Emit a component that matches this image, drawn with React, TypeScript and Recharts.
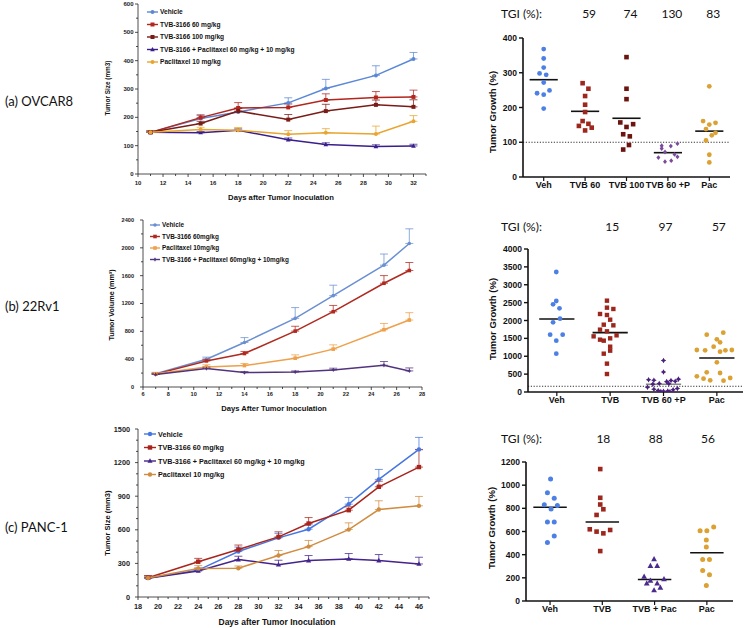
import React from 'react';
import { LineChart, Line, XAxis, YAxis, ErrorBar, ScatterChart, Scatter, ReferenceLine } from 'recharts';

const SANS = '"Liberation Sans", Arial, sans-serif';
const HUM = 'Lato, "Open Sans", sans-serif';

// ---- (a) OVCAR8 growth curves ----
const aDays = [11, 15, 18, 22, 25, 29, 32];
const aVehicle = [147, 196, 219, 251, 302, 348, 406];
const aVehicleErr = [5, 10, 12, 18, 32, 34, 23];
const aTvb60 = [147, 199, 233, 235, 261, 270, 272];
const aTvb60Err = [5, 10, 19, 12, 22, 21, 24];
const aTvb100 = [147, 178, 222, 192, 222, 244, 237];
const aTvb100Err = [5, 8, 10, 18, 24, 17, 25];
const aTvbPac = [147, 146, 154, 121, 104, 97, 99];
const aTvbPacErr = [4, 4, 5, 6, 6, 6, 6];
const aPac = [147, 157, 154, 140, 146, 141, 186];
const aPacErr = [5, 8, 10, 13, 14, 28, 20];
const aXTicks = [10, 11, 12, 13, 14, 15, 16, 17, 18, 19, 20, 21, 22, 23, 24, 25, 26, 27, 28, 29, 30, 31, 32, 33];
const aXMajor = [10, 12, 14, 16, 18, 20, 22, 24, 26, 28, 30, 32];
const aYTicks = [0, 50, 100, 150, 200, 250, 300, 350, 400, 450, 500, 550, 600];
const aYMajor = [0, 100, 200, 300, 400, 500, 600];

// ---- (b) 22Rv1 growth curves ----
const bDays = [7, 11, 14, 18, 21, 25, 27];
const bVehicle = [190, 399, 640, 986, 1313, 1751, 2063];
const bVehicleErr = [20, 30, 70, 155, 150, 160, 210];
const bTvb60 = [185, 375, 481, 803, 1082, 1491, 1674];
const bTvb60Err = [15, 25, 30, 70, 90, 110, 115];
const bPac = [190, 289, 308, 414, 544, 823, 962];
const bPacErr = [15, 30, 30, 48, 62, 90, 106];
const bTvbPac = [180, 265, 207, 216, 245, 313, 231];
const bTvbPacErr = [10, 20, 15, 15, 25, 53, 43];
const bXTicks = [6, 7, 8, 9, 10, 11, 12, 13, 14, 15, 16, 17, 18, 19, 20, 21, 22, 23, 24, 25, 26, 27, 28];
const bXMajor = [6, 8, 10, 12, 14, 16, 18, 20, 22, 24, 26, 28];
const bYTicks = [0, 200, 400, 600, 800, 1000, 1200, 1400, 1600, 1800, 2000, 2200, 2400];
const bYMajor = [0, 400, 800, 1200, 1600, 2000, 2400];

// ---- (c) PANC-1 growth curves ----
const cDays = [19, 24, 28, 32, 35, 39, 42, 46];
const cVehicle = [170, 240, 406, 528, 605, 829, 1050, 1318];
const cVehicleErr = [20, 20, 40, 40, 40, 60, 89, 107];
const cTvb60 = [172, 315, 424, 537, 656, 775, 984, 1160];
const cTvb60Err = [20, 30, 40, 45, 53, 30, 50, 155];
const cTvbPac = [168, 232, 334, 289, 325, 340, 325, 295];
const cTvbPacErr = [10, 15, 30, 39, 45, 48, 54, 60];
const cPac = [170, 255, 257, 370, 450, 602, 781, 814];
const cPacErr = [15, 25, 20, 45, 55, 60, 78, 84];
const cXTicks = [18, 19, 20, 21, 22, 23, 24, 25, 26, 27, 28, 29, 30, 31, 32, 33, 34, 35, 36, 37, 38, 39, 40, 41, 42, 43, 44, 45, 46, 47];
const cXMajor = [18, 20, 22, 24, 26, 28, 30, 32, 34, 36, 38, 40, 42, 44, 46];
const cYTicks = [0, 100, 200, 300, 400, 500, 600, 700, 800, 900, 1000, 1100, 1200, 1300, 1400, 1500];
const cYMajor = [0, 300, 600, 900, 1200, 1500];

// ---- dot plots: tumor growth (%) per animal, with jitter in category units ----
const aCats = ['Veh', 'TVB 60', 'TVB 100', 'TVB 60 +P', 'Pac'];
const aTgi = ['', '59', '74', '130', '83'];
const aVehDots = [368, 341, 315, 298, 294, 272, 249, 241, 237, 197];
const aVehJit = [0, 0, 0, -0.1, 0.06, 0, 0.14, -0.16, 0, 0];
const aTvb60Dots = [270, 254, 233, 208, 187, 161, 153, 147, 142, 134];
const aTvb60Jit = [-0.06, 0.08, 0, 0, 0, -0.06, 0.08, -0.15, 0.16, 0];
const aTvb100Dots = [345, 254, 224, 157, 144, 152, 123, 117, 92, 79];
const aTvb100Jit = [0, 0, 0, -0.15, 0, 0.16, -0.08, 0.08, 0.06, -0.08];
const aTvbPDots = [90, 89, 96, 82, 72, 65, 56, 58, 44, 47];
const aTvbPJit = [-0.15, 0.07, 0.23, -0.15, -0.07, 0.16, -0.23, 0.23, -0.07, 0.08];
const aPacDots = [261, 161, 151, 156, 138, 127, 120, 105, 64, 42];
const aPacJit = [0, -0.15, 0, 0.15, -0.08, 0.15, 0.06, -0.08, 0, 0];
const aMeans = [280, 189, 169, 70, 132];
const aBaseline = 100;

const bCats = ['Veh', 'TVB', 'TVB 60 +P', 'Pac'];
const bTgi = ['', '15', '97', '57'];
const bVehDots = [3357, 2545, 2452, 2340, 2051, 1949, 1604, 1604, 1436, 1072];
const bVehJit = [-0.01, -0.01, -0.07, 0.05, 0.06, -0.07, -0.125, 0.11, -0.01, -0.01];
const bTvbDots = [2555, 2359, 2322, 2182, 2154, 2023, 1883, 1865, 1744, 1697, 1557, 1585, 1464, 1436, 1501, 1268, 1156, 1072, 793, 503];
const bTvbJit = [-0.06, -0.06, 0.06, -0.19, -0.06, 0, -0.12, 0.06, -0.19, -0.06, -0.31, 0.12, -0.19, -0.12, 0, 0, 0, -0.12, -0.06, -0.06];
const bTvbPDots = [880, 560, 360, 340, 330, 320, 300, 290, 240, 230, 220, 130, 100, 80, 60, 40, 30, 20, 15, 10];
const bTvbPJit = [0, 0, 0.28, -0.28, -0.18, 0.14, 0.22, 0.06, -0.08, 0.1, -0.2, -0.3, 0.26, -0.18, 0.18, -0.1, 0.08, 0, -0.05, 0.12];
const bPacDots = [1604, 1660, 1473, 1389, 1175, 1165, 1268, 1128, 1165, 1175, 830, 550, 531, 438, 373, 326, 317, 392];
const bPacJit = [-0.19, 0.12, 0, 0.06, -0.375, -0.22, -0.06, 0.06, 0.16, 0.28, 0, -0.19, 0.06, -0.375, -0.25, -0.125, 0.125, 0.25];
const bMeans = [2042, 1660, 215, 951];
const bBaseline = 160;

const cCats = ['Veh', 'TVB', 'TVB + Pac', 'Pac'];
const cTgi = ['', '18', '88', '56'];
const cVehDots = [1053, 934, 888, 830, 824, 795, 682, 682, 561, 506];
const cVehJit = [0.01, -0.05, 0.08, -0.11, 0.14, 0.02, -0.05, 0.08, 0.08, -0.05];
const cTvbDots = [1139, 891, 833, 792, 743, 619, 599, 584, 613, 431];
const cTvbJit = [-0.04, -0.04, -0.04, 0.02, -0.11, -0.24, -0.11, 0.02, 0.15, -0.04];
const cTvbPDots = [361, 304, 304, 211, 176, 153, 188, 153, 116, 93];
const cTvbPJit = [-0.01, -0.08, 0.05, -0.2, -0.08, 0.05, 0.18, -0.15, 0.11, -0.01];
const cPacDots = [607, 607, 639, 526, 466, 359, 359, 263, 226, 133];
const cPacJit = [-0.13, 0, 0.13, -0.01, -0.01, -0.08, 0.05, -0.08, 0.05, -0.01];
const cMeans = [810, 682, 185, 416];

type Series = { name: string; color: string; mark: string; values: number[]; errs: number[] };

const aSeries: Series[] = [
  { name: 'Vehicle', color: '#5a88d6', mark: 'circle', values: aVehicle, errs: aVehicleErr },
  { name: 'TVB-3166 60 mg/kg', color: '#b3261e', mark: 'square', values: aTvb60, errs: aTvb60Err },
  { name: 'TVB-3166 100 mg/kg', color: '#7a1c16', mark: 'square', values: aTvb100, errs: aTvb100Err },
  { name: 'TVB-3166 + Paclitaxel 60 mg/kg + 10 mg/kg', color: '#3a1f8c', mark: 'triangle', values: aTvbPac, errs: aTvbPacErr },
  { name: 'Paclitaxel 10 mg/kg', color: '#e8a530', mark: 'circle', values: aPac, errs: aPacErr },
];
const bSeries: Series[] = [
  { name: 'Vehicle', color: '#6a8fd2', mark: 'circle', values: bVehicle, errs: bVehicleErr },
  { name: 'TVB-3166 60mg/kg', color: '#b02a20', mark: 'square', values: bTvb60, errs: bTvb60Err },
  { name: 'Paclitaxel 10mg/kg', color: '#eea04a', mark: 'square', values: bPac, errs: bPacErr },
  { name: 'TVB-3166 + Paclitaxel 60mg/kg + 10mg/kg', color: '#52337e', mark: 'plus', values: bTvbPac, errs: bTvbPacErr },
];
const cSeries: Series[] = [
  { name: 'Vehicle', color: '#4676e0', mark: 'circle', values: cVehicle, errs: cVehicleErr },
  { name: 'TVB-3166 60 mg/kg', color: '#a8241c', mark: 'square', values: cTvb60, errs: cTvb60Err },
  { name: 'TVB-3166 + Paclitaxel 60 mg/kg + 10 mg/kg', color: '#44248c', mark: 'triangle', values: cTvbPac, errs: cTvbPacErr },
  { name: 'Paclitaxel 10 mg/kg', color: '#d08c40', mark: 'circle', values: cPac, errs: cPacErr },
];

const rows = (days: number[], s: Series) => days.map((d, i) => ({ day: d, v: s.values[i], e: [0, s.errs[i]] }));
const pts = (cat: number, vals: number[], jit: number[]) => vals.map((v, i) => ({ x: cat + jit[i], y: v }));

function Mark({ kind, x, y, s, color }: any) {
  if (kind === 'square') return <rect x={x - s / 2} y={y - s / 2} width={s} height={s} fill={color} />;
  if (kind === 'triangle')
    return <polygon points={`${x},${y - s * 0.62} ${x + s * 0.58},${y + s * 0.42} ${x - s * 0.58},${y + s * 0.42}`} fill={color} />;
  if (kind === 'diamond')
    return <polygon points={`${x},${y - s * 0.6} ${x + s * 0.5},${y} ${x},${y + s * 0.6} ${x - s * 0.5},${y}`} fill={color} />;
  if (kind === 'plus')
    return (
      <polygon
        points={`${x},${y - s * 0.6} ${x + s * 0.22},${y - s * 0.22} ${x + s * 0.6},${y} ${x + s * 0.22},${y + s * 0.22} ${x},${y + s * 0.6} ${x - s * 0.22},${y + s * 0.22} ${x - s * 0.6},${y} ${x - s * 0.22},${y - s * 0.22}`}
        fill={color}
      />
    );
  return <circle cx={x} cy={y} r={s / 2} fill={color} />;
}

const dotFn = (kind: string, color: string, s: number) => (p: any) => (
  <g key={`d-${p.index}`}>{p.cx != null && p.cy != null ? <Mark kind={kind} x={p.cx} y={p.cy} s={s} color={color} /> : null}</g>
);

const yTick = (majors: number[], fs: number, gap: number) => (p: any) => {
  const v = p.payload.value;
  const major = majors.includes(v);
  return (
    <g key={`y-${v}`}>
      <line x1={p.x} x2={p.x - (major ? 3 : 2)} y1={p.y} y2={p.y} stroke="#222" strokeWidth={0.8} />
      {major && (
        <text x={p.x - gap} y={p.y} dy="0.35em" textAnchor="end" fontSize={fs} fontWeight={700} fontFamily={SANS} fill="#222">
          {v}
        </text>
      )}
    </g>
  );
};

const xTick = (majors: number[], fs: number, gap: number) => (p: any) => {
  const v = p.payload.value;
  const major = majors.includes(v);
  return (
    <g key={`x-${v}`}>
      <line x1={p.x} x2={p.x} y1={p.y} y2={p.y + (major ? 3 : 2)} stroke="#222" strokeWidth={0.8} />
      {major && (
        <text x={p.x} y={p.y + gap} dy="0.35em" textAnchor="middle" fontSize={fs} fontWeight={700} fontFamily={SANS} fill="#222">
          {v}
        </text>
      )}
    </g>
  );
};

function Txt({ x, y, size, bold, family = SANS, rotate, left, children }: any) {
  return (
    <div
      style={{
        position: 'absolute',
        left: x,
        top: y,
        transform: `translate(${left ? '0' : '-50%'}, -50%)${rotate ? ' rotate(-90deg)' : ''}`,
        fontSize: size,
        fontWeight: bold ? 700 : 400,
        fontFamily: family,
        whiteSpace: 'nowrap',
        lineHeight: 1,
        color: '#111',
      }}
    >
      {children}
    </div>
  );
}

function LegendBox({ series, x0, x1, tx, ys, fs, ms }: any) {
  return (
    <svg style={{ position: 'absolute', left: 0, top: 0 }} width={440} height={628}>
      {series.map((s: Series, i: number) => (
        <g key={s.name}>
          <line x1={x0} x2={x1} y1={ys[i]} y2={ys[i]} stroke={s.color} strokeWidth={1.4} />
          <Mark kind={s.mark} x={(x0 + x1) / 2} y={ys[i]} s={ms} color={s.color} />
          <text x={tx} y={ys[i]} dy="0.35em" fontSize={fs} fontWeight={700} fontFamily={SANS} fill="#111">
            {s.name}
          </text>
        </g>
      ))}
    </svg>
  );
}

function GrowthChart({ left, top, width, height, margin, days, series, xDomain, xTicks, xMajor, yDomain, yTicks, yMajor, fs, ygap, xgap, ms }: any) {
  return (
    <div style={{ position: 'absolute', left, top }}>
      <LineChart width={width} height={height} margin={margin}>
        <XAxis
          dataKey="day"
          type="number"
          domain={xDomain}
          ticks={xTicks}
          interval={0}
          tickSize={0}
          tickMargin={0}
          tickLine={false}
          tick={xTick(xMajor, fs, xgap)}
          axisLine={{ stroke: '#222', strokeWidth: 0.8 }}
          height={20}
          allowDataOverflow
        />
        <YAxis
          type="number"
          domain={yDomain}
          ticks={yTicks}
          interval={0}
          tickSize={0}
          tickMargin={0}
          tickLine={false}
          tick={yTick(yMajor, fs, ygap)}
          axisLine={{ stroke: '#222', strokeWidth: 0.8 }}
          width={40}
          allowDataOverflow
        />
        {series.map((s: Series) => (
          <Line
            key={s.name}
            data={rows(days, s)}
            dataKey="v"
            type="linear"
            stroke={s.color}
            strokeWidth={1.5}
            dot={dotFn(s.mark, s.color, ms)}
            activeDot={false}
            isAnimationActive={false}
          >
            <ErrorBar dataKey="e" width={4} stroke={s.color} strokeOpacity={0.75} strokeWidth={1} />
          </Line>
        ))}
      </LineChart>
    </div>
  );
}

const circleShape = (color: string, r: number) => (p: any) => <circle cx={p.cx} cy={p.cy} r={r} fill={color} />;
const markShape = (kind: string, color: string, s: number) => (p: any) => <Mark kind={kind} x={p.cx} y={p.cy} s={s} color={color} />;

function DotChart({ left, top, height, margin, xDomain, cats, yDomain, yTicks, groups, means, meanColors, half, baseline }: any) {
  return (
    <div style={{ position: 'absolute', left, top }}>
      <ScatterChart width={305} height={height} margin={margin}>
        <XAxis
          dataKey="x"
          type="number"
          domain={xDomain}
          ticks={cats.map((_: string, i: number) => i + 1)}
          tickFormatter={(v: number) => cats[v - 1]}
          interval={0}
          tickSize={4}
          tickMargin={1}
          axisLine={{ stroke: '#111', strokeWidth: 1.6 }}
          tickLine={{ stroke: '#111', strokeWidth: 1.2 }}
          tick={{ fontSize: 9, fontWeight: 700, fill: '#111', fontFamily: SANS }}
          height={20}
          allowDataOverflow
        />
        <YAxis
          dataKey="y"
          type="number"
          domain={yDomain}
          ticks={yTicks}
          interval={0}
          tickSize={4}
          tickMargin={2}
          axisLine={{ stroke: '#111', strokeWidth: 1.6 }}
          tickLine={{ stroke: '#111', strokeWidth: 1.4 }}
          tick={{ fontSize: 8.5, fontWeight: 700, fill: '#111', fontFamily: SANS }}
          width={40}
          allowDataOverflow
        />
        {baseline != null && <ReferenceLine y={baseline} stroke="#333" strokeWidth={1} strokeDasharray="1.2 1.6" />}
        {groups.map((g: any, i: number) => (
          <Scatter key={i} data={g.data} shape={g.shape} isAnimationActive={false} />
        ))}
        {means.map((m: number, i: number) => (
          <ReferenceLine
            key={`m-${i}`}
            segment={[
              { x: i + 1 - half, y: m },
              { x: i + 1 + half, y: m },
            ]}
            stroke={meanColors[i]}
            strokeWidth={1.6}
            ifOverflow="visible"
          />
        ))}
      </ScatterChart>
    </div>
  );
}

const BLUE = '#4d80e4';
const RED = '#9e271d';
const DARKRED = '#6c1510';
const GOLD = '#dba132';

export default function App() {
  // dot plot geometry used for the TGI row above each plot
  const aCatX = (i: number) => 523 + (i + 1 - 0.5) * 41.4;
  const bCatX = (i: number) => 528 + (i + 1 - 0.46) * 53.35;
  const cCatX = (i: number) => 526 + (i + 1 - 0.54) * 52.3;

  return (
    <div style={{ position: 'absolute', left: 0, top: 0, width: 745, height: 628, background: '#fff', overflow: 'hidden' }}>
      {/* panel labels */}
      <Txt x={5} y={101} size={13} family={HUM} left>(a) OVCAR8</Txt>
      <Txt x={5} y={306} size={13} family={HUM} left>(b) 22Rv1</Txt>
      <Txt x={5} y={527} size={13} family={HUM} left>(c) PANC-1</Txt>

      {/* growth curves */}
      <GrowthChart
        left={0} top={0} width={440} height={210}
        margin={{ top: 4, right: 14, left: 98, bottom: 16 }}
        days={aDays} series={aSeries}
        xDomain={[10, 33]} xTicks={aXTicks} xMajor={aXMajor}
        yDomain={[0, 600]} yTicks={aYTicks} yMajor={aYMajor}
        fs={6} ygap={4.5} xgap={9} ms={4}
      />
      <Txt x={108} y={88} size={6.4} bold rotate>Tumor Size (mm3)</Txt>
      <Txt x={281} y={198} size={7.7} bold>Days after Tumor Inoculation</Txt>
      <LegendBox series={aSeries} x0={147} x1={158} tx={160} ys={[12, 24.5, 37, 49.5, 62]} fs={6.6} ms={4} />

      <GrowthChart
        left={0} top={205} width={440} height={210}
        margin={{ top: 15, right: 18, left: 103, bottom: 8 }}
        days={bDays} series={bSeries}
        xDomain={[6, 28]} xTicks={bXTicks} xMajor={bXMajor}
        yDomain={[0, 2400]} yTicks={bYTicks} yMajor={bYMajor}
        fs={5.6} ygap={9} xgap={7} ms={3.6}
      />
      <Txt x={112} y={305} size={7.2} bold rotate>Tumor Volume (mm³)</Txt>
      <Txt x={274} y={409} size={7.6} bold>Days After Tumor Inoculation</Txt>
      <LegendBox series={bSeries} x0={150} x1={160} tx={162} ys={[225, 236.5, 248, 259.5]} fs={6.4} ms={3.6} />

      <GrowthChart
        left={0} top={410} width={440} height={218}
        margin={{ top: 19, right: 11, left: 98, bottom: 11 }}
        days={cDays} series={cSeries}
        xDomain={[18, 47]} xTicks={cXTicks} xMajor={cXMajor}
        yDomain={[0, 1500]} yTicks={cYTicks} yMajor={cYMajor}
        fs={7.3} ygap={8} xgap={9} ms={4.4}
      />
      <Txt x={108} y={523} size={7.6} bold rotate>Tumor Size (mm3)</Txt>
      <Txt x={277} y={622} size={8.5} bold>Days after Tumor Inoculation</Txt>
      <LegendBox series={cSeries} x0={144} x1={156} tx={158} ys={[434, 447.5, 461, 474.5]} fs={7.2} ms={4.4} />

      {/* dot plots */}
      <Txt x={501} y={14} size={12} family={HUM} left>TGI (%):</Txt>
      {aTgi.map((t, i) => t && <Txt key={`at${i}`} x={aCatX(i) + 4} y={14} size={12} family={HUM}>{t}</Txt>)}
      <DotChart
        left={440} top={0} height={210}
        margin={{ top: 38, right: 15, left: 43, bottom: 13 }}
        xDomain={[0.5, 5.5]} cats={aCats}
        yDomain={[0, 400]} yTicks={[0, 100, 200, 300, 400]}
        baseline={aBaseline}
        groups={[
          { data: pts(1, aVehDots, aVehJit), shape: circleShape(BLUE, 2.4) },
          { data: pts(2, aTvb60Dots, aTvb60Jit), shape: markShape('square', RED, 4.6) },
          { data: pts(3, aTvb100Dots, aTvb100Jit), shape: markShape('square', DARKRED, 4.6) },
          { data: pts(4, aTvbPDots, aTvbPJit), shape: markShape('diamond', '#7a4a9c', 4) },
          { data: pts(5, aPacDots, aPacJit), shape: circleShape(GOLD, 2.4) },
        ]}
        means={aMeans} meanColors={['#111', '#111', '#111', '#111', '#111']} half={0.34}
      />
      <Txt x={493} y={112} size={9.5} bold rotate>Tumor Growth (%)</Txt>

      <Txt x={501} y={227} size={12} family={HUM} left>TGI (%):</Txt>
      {bTgi.map((t, i) => t && <Txt key={`bt${i}`} x={bCatX(i) + 2} y={227} size={12} family={HUM}>{t}</Txt>)}
      <DotChart
        left={440} top={205} height={210}
        margin={{ top: 44, right: 2, left: 48, bottom: 3 }}
        xDomain={[0.46, 4.49]} cats={bCats}
        yDomain={[0, 4000]} yTicks={[0, 500, 1000, 1500, 2000, 2500, 3000, 3500, 4000]}
        baseline={bBaseline}
        groups={[
          { data: pts(1, bVehDots, bVehJit), shape: circleShape(BLUE, 2.4) },
          { data: pts(2, bTvbDots, bTvbJit), shape: markShape('square', RED, 4.4) },
          { data: pts(3, bTvbPDots, bTvbPJit), shape: markShape('plus', '#4b1f7c', 4.6) },
          { data: pts(4, bPacDots, bPacJit), shape: circleShape(GOLD, 2.4) },
        ]}
        means={bMeans} meanColors={['#111', '#111', '#888', '#111']} half={0.33}
      />
      <Txt x={493} y={319} size={9.5} bold rotate>Tumor Growth (%)</Txt>

      <Txt x={501} y={439} size={12} family={HUM} left>TGI (%):</Txt>
      {cTgi.map((t, i) => t && <Txt key={`ct${i}`} x={cCatX(i) + 1} y={439} size={12} family={HUM}>{t}</Txt>)}
      <DotChart
        left={440} top={410} height={218}
        margin={{ top: 52, right: 12, left: 46, bottom: 7 }}
        xDomain={[0.54, 4.5]} cats={cCats}
        yDomain={[0, 1200]} yTicks={[0, 200, 400, 600, 800, 1000, 1200]}
        groups={[
          { data: pts(1, cVehDots, cVehJit), shape: circleShape(BLUE, 2.5) },
          { data: pts(2, cTvbDots, cTvbJit), shape: markShape('square', RED, 4.6) },
          { data: pts(3, cTvbPDots, cTvbPJit), shape: markShape('triangle', '#4b2a90', 5) },
          { data: pts(4, cPacDots, cPacJit), shape: circleShape(GOLD, 2.5) },
        ]}
        means={cMeans} meanColors={['#111', '#111', '#111', '#111']} half={0.32}
      />
      <Txt x={492} y={528} size={9.5} bold rotate>Tumor Growth (%)</Txt>
    </div>
  );
}
